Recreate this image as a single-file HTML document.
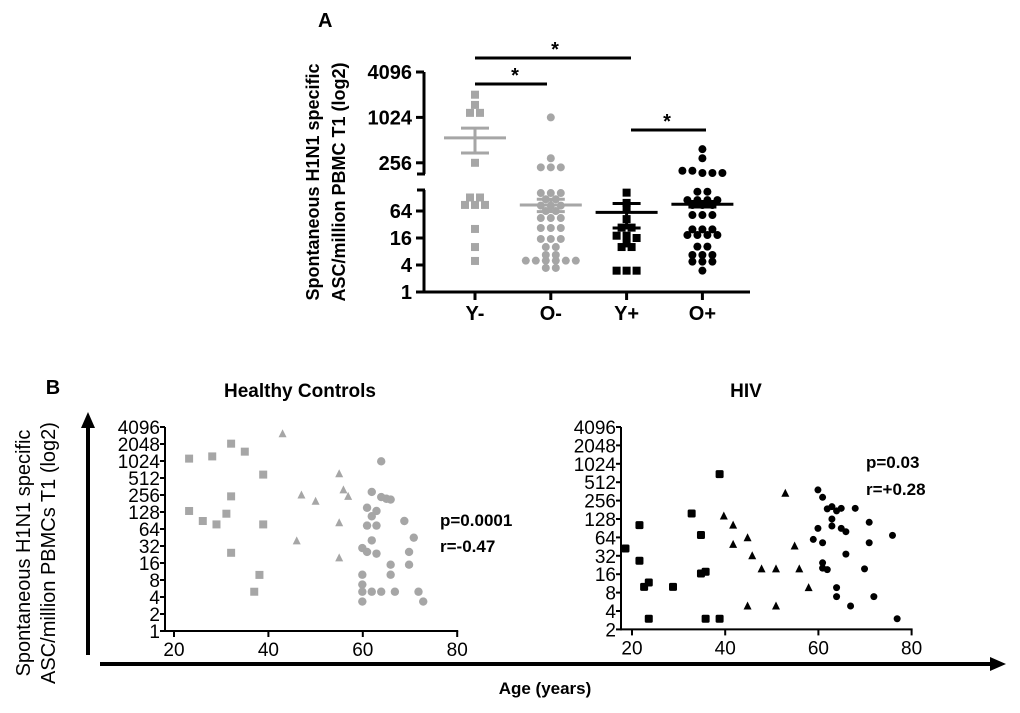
<!DOCTYPE html>
<html><head><meta charset="utf-8"><style>
body{margin:0;background:#fff;}
svg{display:block;font-family:"Liberation Sans",sans-serif;}
.b{font-weight:bold;}
</style></head><body>
<svg id="s" width="1020" height="713" viewBox="0 0 1020 713">
<text x="318" y="27" class="b" font-size="20">A</text>
<text class="b" font-size="18" text-anchor="middle" transform="translate(319,182) rotate(-90)">Spontaneous H1N1 specific</text>
<text class="b" font-size="18" text-anchor="middle" transform="translate(345,182) rotate(-90)">ASC/million PBMC T1 (log2)</text>
<text x="53" y="394" class="b" font-size="20" text-anchor="middle">B</text>
<text font-size="20" text-anchor="middle" transform="translate(30,553) rotate(-90)">Spontaneous H1N1 specific</text>
<text font-size="20" text-anchor="middle" transform="translate(55,553) rotate(-90)">ASC/million PBMCs T1 (log2)</text>
<line x1="88" y1="655" x2="88" y2="425" stroke="#000" stroke-width="4"/>
<polygon points="88,412 81,428 95,428" fill="#000"/>
<line x1="100" y1="664" x2="992" y2="664" stroke="#000" stroke-width="4"/>
<polygon points="1006,664 990,657 990,671" fill="#000"/>
<text x="545" y="694" class="b" font-size="17" text-anchor="middle">Age (years)</text>
<text x="300" y="397" class="b" font-size="19" text-anchor="middle">Healthy Controls</text>
<text x="746" y="397" class="b" font-size="19" text-anchor="middle">HIV</text>
<text x="440" y="526" class="b" font-size="17">p=0.0001</text>
<text x="440" y="552" class="b" font-size="17">r=-0.47</text>
<text x="866" y="468" class="b" font-size="17">p=0.03</text>
<text x="866" y="495" class="b" font-size="17">r=+0.28</text>
</svg>
<script>
// Panel A data (log2 values)
const groupsA = ["Y-","O-","Y+","O+"];
const yMinus = [11.0,10.55,10.2,10.2,8.0,7.0,7.0,6.45,6.45,6.45,4.67,3.33,2.3];
const oMinus = [10,8.2,7.8,7.8,7.8,7.33,7.33,7.33,6.87,6.87,6.4,6.4,6.4,6.0,6.0,5.48,5.48,5.48,4.74,4.74,4.74,3.93,3.93,3.93,3.33,3.33,2.74,2.74,2.32,2.32,2.32,2.32,2.32,2.32,1.78,1.78];
const yPlus = [7.36,6.6,6.2,5.4,4.77,4.77,4.17,4.17,4.0,3.6,3.33,3.33,1.58,1.58,1.58];
const oPlus = [8.6,8.2,7.65,7.65,7.55,7.55,7.55,7.43,7.43,6.81,6.81,6.81,6.81,6.44,6.44,6.44,5.7,5.7,5.7,4.64,4.64,4.64,4.22,4.22,4.22,4.22,3.36,3.36,2.74,2.74,2.74,2.25,2.25,2.25,1.58];
const meansA = [9.1,6.44,5.9,6.5];
const errHiA = [9.53,6.87,6.56,6.7];
const errLoA = [8.43,5.95,4.74,6.3];
const ticksA = [0,2,4,6,8,10,12];
const ticksALabels = ["1","4","16","64","256","1024","4096"];
// Panel B healthy
const hcSqAge=[23.2,28.1,32.1,35.0,38.9,32.1,23.2,26.1,29.0,31.1,38.9,32.1,38.1,37.0];
const hcSqVal=[10.14,10.27,11.02,10.55,9.2,7.92,7.06,6.47,6.27,6.9,6.27,4.6,3.3,2.31];
const hcTrAge=[43.0,47.0,50.0,55.0,55.9,56.9,55.0,46.0,55.0];
const hcTrVal=[11.6,8.0,7.63,9.25,8.3,7.92,6.37,5.3,4.3];
const hcCiAge=[63.9,61.9,63.9,65.0,65.9,60.9,62.9,61.9,60.9,62.9,68.8,61.9,70.8,59.9,60.9,62.9,69.8,65.9,69.8,59.9,65.9,59.9,59.9,61.9,63.9,66.8,71.8,59.9,72.8];
const hcCiVal=[9.98,8.18,7.88,7.78,7.73,7.25,7.06,6.75,6.2,6.2,6.47,5.33,5.49,4.88,4.65,4.55,4.65,3.9,3.9,3.31,3.31,2.73,2.31,2.31,2.31,2.31,2.31,1.73,1.73];
// Panel B HIV
const hivSqAge=[18.6,21.6,21.6,22.6,23.6,23.6,28.8,32.8,34.8,34.8,35.8,35.8,38.8,38.8];
const hivSqVal=[5.4,6.67,4.73,3.31,3.55,1.58,3.31,7.3,6.13,4.04,4.13,1.58,1.58,9.44];
const hivTrAge=[52.9,39.7,41.7,41.7,44.8,45.8,47.8,50.9,55.9,54.9,57.9,44.8,50.9];
const hivTrVal=[8.4,7.16,6.67,5.62,5.98,5.0,4.29,4.29,4.29,5.53,3.27,2.27,2.27];
const hivCiAge=[59.9,60.9,61.9,62.9,63.9,64.9,67.9,62.9,62.9,59.9,64.9,65.9,70.9,58.9,60.9,70.9,75.9,65.9,60.9,60.9,61.9,69.9,63.9,63.9,71.9,66.9,76.9];
const hivCiVal=[8.58,8.18,7.55,7.67,7.44,7.58,7.58,7.0,6.62,6.49,6.49,6.31,6.82,5.89,5.71,5.71,6.11,5.09,4.62,4.33,4.25,4.29,3.27,2.78,2.78,2.27,1.58];
const bTicksX=[20,40,60,80];
const hcTicksY=[0,1,2,3,4,5,6,7,8,9,10,11,12];
const hivTicksY=[1,2,3,4,5,6,7,8,9,10,11,12];

const NS="http://www.w3.org/2000/svg";
const svg=document.getElementById('s');
function el(tag,attrs,parent){const e=document.createElementNS(NS,tag);for(const k in attrs)e.setAttribute(k,attrs[k]);(parent||svg).appendChild(e);return e;}

// ---- Panel A ----
const xA=i=>475+i*75.8;
function yA(v){return v>=7.5?72+(12-v)*22.7:211-(v-6)*13.5;}
const gA=el('g',{});


let l=el('line',{x1:424,y1:72,x2:424,y2:174,stroke:'#000','stroke-width':3},gA);

el('line',{x1:417,y1:174,x2:425,y2:174,stroke:'#000','stroke-width':3},gA);
l=el('line',{x1:424,y1:190,x2:424,y2:293,stroke:'#000','stroke-width':3},gA);

el('line',{x1:417,y1:190,x2:425,y2:190,stroke:'#000','stroke-width':3},gA);
l=el('line',{x1:423,y1:292,x2:750,y2:292,stroke:'#000','stroke-width':3},gA);

ticksA.forEach((t,i)=>{const y=yA(t);el('line',{x1:416,y1:y,x2:424,y2:y,stroke:'#000','stroke-width':3},gA);
const tx=el('text',{x:412,y:y+7,'text-anchor':'end','font-size':20,'font-weight':'bold'},gA);tx.textContent=ticksALabels[i];
});
groupsA.forEach((g,i)=>{const x=xA(i);el('line',{x1:x,y1:292,x2:x,y2:300,stroke:'#000','stroke-width':3},gA);
const tx=el('text',{x:x,y:320,'text-anchor':'middle','font-size':20,'font-weight':'bold'},gA);tx.textContent=g;
});
const seriesA=[yMinus,oMinus,yPlus,oPlus];
const colA=['#a6a6a6','#a6a6a6','#000','#000'];
const shapeA=['sq','ci','sq','ci'];
seriesA.forEach((vals,i)=>{
  const ys=vals.map(yA).sort((a,b)=>a-b);
  const clusters=[];ys.forEach(y=>{const c=clusters[clusters.length-1];if(c&&y-c[0]<2.5)c.push(y);else clusters.push([y]);});
  clusters.forEach(c=>{c.forEach((y,k)=>{const x=xA(i)+(k-(c.length-1)/2)*10;let m;
    if(shapeA[i]==='sq')m=el('rect',{x:x-4,y:y-4,width:8,height:8,fill:colA[i]},gA);
    else m=el('circle',{cx:x,cy:y,r:4,fill:colA[i]},gA);
    });});
  const x=xA(i),c=colA[i];
  let m=el('line',{x1:x-31,y1:yA(meansA[i]),x2:x+31,y2:yA(meansA[i]),stroke:c,'stroke-width':3},gA);
  
  el('line',{x1:x,y1:yA(errHiA[i]),x2:x,y2:yA(errLoA[i]),stroke:c,'stroke-width':3},gA);
  el('line',{x1:x-14,y1:yA(errHiA[i]),x2:x+14,y2:yA(errHiA[i]),stroke:c,'stroke-width':3},gA);
  el('line',{x1:x-14,y1:yA(errLoA[i]),x2:x+14,y2:yA(errLoA[i]),stroke:c,'stroke-width':3},gA);
});
[[475,631,58,555],[475,547,84,515],[631,706,130,667]].forEach(s=>{
  const b=el('line',{x1:s[0],y1:s[2],x2:s[1],y2:s[2],stroke:'#000','stroke-width':3},gA);
  
  const t=el('text',{x:s[3],y:s[2]-2,'text-anchor':'middle','font-size':20,'font-weight':'bold'},gA);t.textContent='*';
  });

// ---- Panel B ----
function scatter(cfg){
  const g=el('g',{});
  
  
  const xs=a=>cfg.x0+(a-20)*cfg.kx, ys=v=>cfg.yTop+(12-v)*cfg.ky;
  const yb=ys(cfg.ticksY[0]);
  el('line',{x1:cfg.ax,y1:ys(12),x2:cfg.ax,y2:yb+1,stroke:'#000','stroke-width':2},g);
  el('line',{x1:cfg.ax,y1:yb,x2:xs(80)+1,y2:yb,stroke:'#000','stroke-width':2},g);
  cfg.ticksY.forEach(t=>{const y=ys(t);el('line',{x1:cfg.ax-5,y1:y,x2:cfg.ax,y2:y,stroke:'#000','stroke-width':2},g);
    const tx=el('text',{x:cfg.ax-5,y:y+7,'text-anchor':'end','font-size':19},g);tx.textContent=String(Math.pow(2,t));
    });
  bTicksX.forEach(t=>{const x=xs(t);el('line',{x1:x,y1:yb,x2:x,y2:yb+6,stroke:'#000','stroke-width':2},g);
    const tx=el('text',{x:x,y:yb+25,'text-anchor':'middle','font-size':19},g);tx.textContent=String(t);
    });
  const c=cfg.color,s=cfg.size;
  cfg.sqA.forEach((a,i)=>{const m=el('rect',{x:xs(a)-s,y:ys(cfg.sqV[i])-s,width:2*s,height:2*s,rx:cfg.rx,fill:c},g);
    });
  cfg.trA.forEach((a,i)=>{const x=xs(a),y=ys(cfg.trV[i]);const m=el('polygon',{points:`${x},${y-4.5} ${x-4},${y+3.5} ${x+4},${y+3.5}`,fill:c},g);
    });
  cfg.ciA.forEach((a,i)=>{const m=el('circle',{cx:xs(a),cy:ys(cfg.ciV[i]),r:cfg.cr,fill:c},g);
    });
}
scatter({name:'healthy-chart',x0:174,kx:4.72,yTop:427,ky:17,ax:165,ticksY:hcTicksY,color:'#a6a6a6',size:4,rx:0,cr:4.2,
  sqA:hcSqAge,sqV:hcSqVal,trA:hcTrAge,trV:hcTrVal,ciA:hcCiAge,ciV:hcCiVal});
scatter({name:'hiv-chart',x0:632,kx:4.66,yTop:427,ky:18.4,ax:621,ticksY:hivTicksY,color:'#000',size:4,rx:1.5,cr:3.5,
  sqA:hivSqAge,sqV:hivSqVal,trA:hivTrAge,trV:hivTrVal,ciA:hivCiAge,ciV:hivCiVal});
</script>
</body></html>
